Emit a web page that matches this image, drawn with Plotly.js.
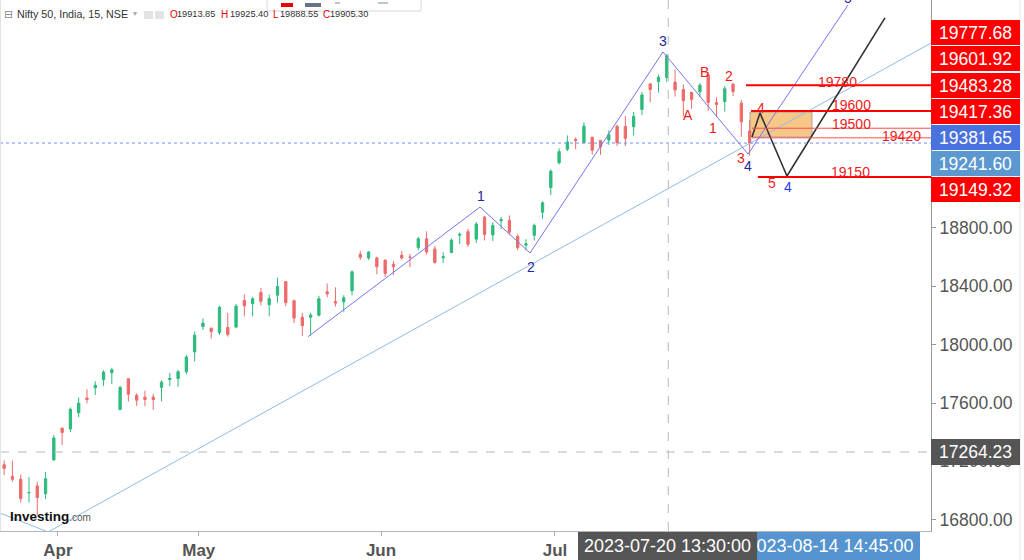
<!DOCTYPE html>
<html><head><meta charset="utf-8">
<script src="https://cdn.plot.ly/plotly-3.0.1.min.js"></script>
<style>html,body{margin:0;padding:0;background:#fff;}#chart{width:1024px;height:560px;}</style>
</head><body><div id="chart"></div>
<script>
// ---------- DATA (Nifty 50, daily OHLC) ----------
const dates = ['2023-03-22','2023-03-23','2023-03-24','2023-03-27','2023-03-28','2023-03-29','2023-03-31',
'2023-04-03','2023-04-05','2023-04-06','2023-04-10','2023-04-11','2023-04-12','2023-04-13','2023-04-17','2023-04-18','2023-04-19','2023-04-20','2023-04-21','2023-04-24','2023-04-25','2023-04-26','2023-04-27','2023-04-28',
'2023-05-02','2023-05-03','2023-05-04','2023-05-05','2023-05-08','2023-05-09','2023-05-10','2023-05-11','2023-05-12','2023-05-15','2023-05-16','2023-05-17','2023-05-18','2023-05-19','2023-05-22','2023-05-23','2023-05-24','2023-05-25','2023-05-26','2023-05-29','2023-05-30','2023-05-31',
'2023-06-01','2023-06-02','2023-06-05','2023-06-06','2023-06-07','2023-06-08','2023-06-09','2023-06-12','2023-06-13','2023-06-14','2023-06-15','2023-06-16','2023-06-19','2023-06-20','2023-06-21','2023-06-22','2023-06-23','2023-06-26','2023-06-27','2023-06-28','2023-06-30',
'2023-07-03','2023-07-04','2023-07-05','2023-07-06','2023-07-07','2023-07-10','2023-07-11','2023-07-12','2023-07-13','2023-07-14','2023-07-17','2023-07-18','2023-07-19','2023-07-20','2023-07-21','2023-07-24','2023-07-25','2023-07-26','2023-07-27','2023-07-28','2023-07-31',
'2023-08-01','2023-08-02','2023-08-03'];
const openP = [17177,17097,17077,16985,17032,16978,17210,
17428,17422,17533,17634,17704,17759,17807,17555,17767,17653,17640,17640,17707,17761,17768,17814,17950,
18124,18113,18082,18117,18120,18303,18281,18358,18273,18339,18432,18301,18188,18187,18201,18362,18295,18294,18369,18619,18594,18594,
18580,18551,18613,18600,18665,18725,18655,18595,18631,18750,18774,18723,18874,18752,18849,18853,18742,18682,18749,18908,19076,
19246,19339,19406,19385,19422,19400,19402,19497,19495,19493,19612,19787,19802,19831,19800,19748,19729,19733,19850,19659,19666,
19785,19655,19464];
const highP = [17207,17205,17110,17092,17061,17127,17381,
17428,17570,17638,17694,17749,17825,17842,17717,17767,17666,17684,17663,17755,17807,17827,17931,18090,
18180,18117,18267,18216,18278,18344,18326,18389,18343,18459,18432,18309,18218,18218,18335,18419,18393,18339,18508,18641,18642,18603,
18581,18574,18641,18623,18738,18777,18676,18633,18728,18769,18794,18840,18882,18840,18876,18886,18756,18723,18830,18983,19201,
19346,19434,19421,19524,19423,19400,19468,19508,19567,19595,19731,19792,19851,19992,19887,19782,19729,19793,19868,19695,19772,
19795,19678,19538];
const lowP = [17107,17061,16918,16918,16828,16941,17204,
17313,17402,17503,17597,17655,17717,17730,17553,17610,17580,17578,17554,17612,17716,17711,17797,17885,
18100,18042,18066,18055,18120,18194,18194,18270,18194,18287,18264,18147,18060,18062,18194,18325,18262,18226,18338,18581,18581,18483,
18464,18478,18583,18531,18647,18616,18555,18559,18627,18690,18669,18697,18714,18710,18794,18751,18647,18646,18714,18861,19025,
19235,19326,19339,19378,19303,19301,19370,19362,19361,19433,19572,19661,19727,19799,19700,19563,19616,19698,19603,19563,19597,
19704,19424,19296];
const closeP = [17152,17077,16945,16986,16952,17081,17360,
17398,17557,17599,17624,17722,17812,17828,17707,17660,17619,17624,17624,17743,17769,17814,17915,18065,
18148,18090,18256,18069,18264,18266,18315,18297,18315,18399,18287,18182,18130,18203,18314,18348,18285,18321,18499,18599,18634,18534,
18488,18534,18594,18599,18726,18635,18563,18602,18716,18756,18688,18826,18755,18817,18857,18771,18666,18691,18817,18972,19189,
19323,19389,19399,19497,19332,19356,19439,19384,19414,19565,19711,19749,19833,19979,19745,19672,19681,19778,19660,19646,19754,
19734,19527,19382];

const monthTickDates = ['2023-04-03','2023-05-02','2023-06-01','2023-07-03'];
const monthTickLabels = ['Apr','May','Jun','Jul'];
const priceTicks = [16800,17200,17600,18000,18400,18800];

// Elliott wave drawing: x = trading-day index, y = price
const waveX = [36.7, 57.45, 63.49, 79.54, 89.81, 101.88];
const waveY = [18055, 18943, 18628, 20006, 19306, 20328];
const waveLabelText = ['1','2','3','4'];
const waveLabelX = [57.57, 63.61, 79.54, 89.81];
const waveLabelY = [19019, 18532, 20081, 19224];
const wave5Label = {text:'5', x:101.88, y:20376};
const projX = [90.29, 91.25, 94.51, 106.34];
const projY = [19423, 19588, 19156, 20239];
const projLabelX = 94.63, projLabelY = 19080, projLabelText = '4';
const trendX = [5.30, 111.9], trendY = [16716, 20067];
const trend2X = [-0.5, 5.30], trend2Y = [16846, 16716];
const subLabels = ['A','B','1','2','3','4','5'];
const subLabelX = [82.56, 84.61, 85.58, 87.51, 88.96, 91.38, 92.70];
const subLabelY = [19574, 19869, 19485, 19841, 19279, 19622, 19108];
const levelValues = [19777.68, 19601.92, 19483.28, 19417.36, 19149.32];
const levelTexts = ['19780','19600','19500','19420','19150'];
const levelStartX = [89.57, 90.17, 90.29, 90.29, 91.0];
const levelTextX = [100.67, 102.36, 102.36, 108.28, 102.24];
const zoneX = [90.05, 97.53], zoneY = [19423, 19594];
const lastPrice = 19381.65;
const axisLabelValues = [19777.68, 19601.92, 19483.28, 19417.36, 19381.65, 19241.60, 19149.32];
const crossPrice = 17264.23, crossX = 80.18, crossText = '2023-07-20 13:30:00';
const cursorText = '2023-08-14 14:45:00';
const ohlcKeys = ['O','H','L','C'];
const ohlcVals = [19913.85, 19925.40, 19888.55, 19905.30];

// ---------- LAYOUT CONSTANTS ----------
const PW = 931, PH = 531;
const xMin = -0.5, xMax = 111.9, yMin = 16722.8, yMax = 20362.0;
const pxX = p => p / PW;
const pxY = p => (PH - p) / PH;
const priceToPaper = v => (v - yMin) / (yMax - yMin);
const FONT = 'Liberation Sans, Arial, Helvetica, sans-serif';
const xIdx = dates.map((d, i) => i);

const traces = [
  {type:'candlestick', x:xIdx, open:openP, high:highP, low:lowP, close:closeP,
   increasing:{line:{color:'#2dbb7d', width:1}, fillcolor:'#2dbb7d'},
   decreasing:{line:{color:'#ee6a6a', width:1}, fillcolor:'#ee6a6a'},
   hoverinfo:'none', showlegend:false},
  {type:'scatter', mode:'lines', x:trendX, y:trendY, line:{color:'#8dbbe8', width:1}, hoverinfo:'none'},
  {type:'scatter', mode:'lines', x:trend2X, y:trend2Y, line:{color:'#8dbbe8', width:1}, hoverinfo:'none'},
  {type:'scatter', mode:'lines', x:waveX, y:waveY, line:{color:'#7575f2', width:1}, hoverinfo:'none'},
  {type:'scatter', mode:'lines', x:projX, y:projY, line:{color:'#333333', width:1.6}, hoverinfo:'none'}
];

const shapes = [];
shapes.push({type:'rect', xref:'x', yref:'y', x0:zoneX[0], x1:zoneX[1], y0:zoneY[0], y1:zoneY[1],
  fillcolor:'#f7c27c', opacity:0.9, line:{color:'#999', width:1}, layer:'below'});
const thin = [false, false, true, true, false];
levelValues.forEach((v, i) => {
  shapes.push({type:'line', xref:'x', yref:'y', x0:levelStartX[i], x1:xMax, y0:v, y1:v,
    line:{color: thin[i] ? '#ff4d4d' : '#ff0000', width: thin[i] ? 1 : 2}});
});
shapes.push({type:'line', xref:'paper', yref:'y', x0:0, x1:1, y0:lastPrice, y1:lastPrice,
  line:{color:'#6f8fe6', width:1, dash:'dot'}});
shapes.push({type:'line', xref:'x', yref:'paper', x0:crossX, x1:crossX, y0:0, y1:1,
  line:{color:'#b8b8b8', width:1, dash:'dash'}});
shapes.push({type:'line', xref:'paper', yref:'y', x0:0, x1:1, y0:crossPrice, y1:crossPrice,
  line:{color:'#b8b8b8', width:1, dash:'dash'}});
shapes.push({type:'line', xref:'paper', yref:'paper', x0:pxX(0.5), x1:pxX(0.5), y0:0, y1:1, line:{color:'#e2e2e2', width:1}});
shapes.push({type:'line', xref:'paper', yref:'paper', x0:pxX(1020), x1:pxX(1020), y0:pxY(560), y1:1, line:{color:'#e4e4e4', width:1}});
// header icons
shapes.push({type:'rect', xref:'paper', yref:'paper', x0:pxX(144), x1:pxX(153), y0:pxY(19), y1:pxY(11), fillcolor:'#e3e3e3', line:{width:0}});
shapes.push({type:'rect', xref:'paper', yref:'paper', x0:pxX(155), x1:pxX(164), y0:pxY(19), y1:pxY(11), fillcolor:'#e3e3e3', line:{width:0}});
// toolbar
shapes.push({type:'rect', xref:'paper', yref:'paper', x0:pxX(267), x1:pxX(421), y0:pxY(11), y1:pxY(-2), fillcolor:'#ffffff', line:{color:'#d6d6d6', width:1}});
shapes.push({type:'rect', xref:'paper', yref:'paper', x0:pxX(281), x1:pxX(293), y0:pxY(7), y1:pxY(3), fillcolor:'#ee0000', line:{width:0}});
shapes.push({type:'rect', xref:'paper', yref:'paper', x0:pxX(305), x1:pxX(321), y0:pxY(7), y1:pxY(3), fillcolor:'#6a7385', line:{width:0}});
shapes.push({type:'line', xref:'paper', yref:'paper', x0:pxX(335), x1:pxX(340), y0:pxY(3), y1:pxY(3), line:{color:'#888', width:1}});
shapes.push({type:'line', xref:'paper', yref:'paper', x0:pxX(378), x1:pxX(388), y0:pxY(3), y1:pxY(3), line:{color:'#888', width:1}});

const ann = [];
waveLabelText.forEach((t, i) => ann.push({xref:'x', yref:'y', x:waveLabelX[i], y:waveLabelY[i], text:t, showarrow:false,
  font:{family:FONT, size:14, color:'#25289a'}}));
ann.push({xref:'x', yref:'paper', x:wave5Label.x, y:priceToPaper(wave5Label.y), yshift:10, text:wave5Label.text, showarrow:false,
  font:{family:FONT, size:14, color:'#25289a'}});
ann.push({xref:'x', yref:'y', x:projLabelX, y:projLabelY, text:projLabelText, showarrow:false,
  font:{family:FONT, size:14, color:'#1f3de6'}});
subLabels.forEach((t, i) => ann.push({xref:'x', yref:'y', x:subLabelX[i], y:subLabelY[i], text:t, showarrow:false,
  font:{family:FONT, size:14, color:'#f01c1c'}}));
const levelShift = [3, 6, 4, 2, 5];
levelTexts.forEach((t, i) => ann.push({xref:'x', yref:'y', x:levelTextX[i], y:levelValues[i], yshift:levelShift[i],
  text:t, showarrow:false, font:{family:FONT, size:14, color:'#f01c1c'}}));
const labelColors = ['#ff0000','#ff0000','#ff0000','#ff0000','#4a72de','#5b98d0','#ff0000'];
axisLabelValues.forEach((v, i) => {
  const cy = 32.5 + i * 26.25;
  ann.push({xref:'paper', yref:'paper', x:1, y:pxY(cy), xanchor:'left', yanchor:'middle',
    width:89, height:25, borderpad:0, borderwidth:0, bgcolor:labelColors[i], showarrow:false,
    text:v.toFixed(2), font:{family:FONT, size:17.5, color:'#ffffff'}});
});
ann.push({xref:'paper', yref:'paper', x:1, y:pxY(452), xanchor:'left', yanchor:'middle',
  width:89, height:26, borderpad:0, borderwidth:0, bgcolor:'#555555', showarrow:false,
  text:crossPrice.toFixed(2), font:{family:FONT, size:17.5, color:'#ffffff'}});
ann.push({xref:'paper', yref:'paper', x:pxX(740), y:pxY(532), xanchor:'left', yanchor:'top',
  width:180, height:28, borderpad:0, borderwidth:0, bgcolor:'#5594d0', showarrow:false,
  text:cursorText, font:{family:FONT, size:18, color:'#ffffff'}});
ann.push({xref:'paper', yref:'paper', x:pxX(578), y:pxY(532), xanchor:'left', yanchor:'top',
  width:179, height:28, borderpad:0, borderwidth:0, bgcolor:'#555555', showarrow:false,
  text:crossText, font:{family:FONT, size:18, color:'#ffffff'}});
// header
ann.push({xref:'paper', yref:'paper', x:pxX(2), y:pxY(14), xanchor:'left', yanchor:'middle', showarrow:false,
  text:'⊟', font:{family:'DejaVu Sans', size:11, color:'#888'}});
ann.push({xref:'paper', yref:'paper', x:pxX(15), y:pxY(14), xanchor:'left', yanchor:'middle', showarrow:false,
  text:'Nifty 50, India, 15, NSE', font:{family:FONT, size:10.7, color:'#333'}});
ann.push({xref:'paper', yref:'paper', x:pxX(131), y:pxY(13), xanchor:'left', yanchor:'middle', showarrow:false,
  text:'▾', font:{family:'DejaVu Sans', size:8, color:'#aaa'}});
const ohlcKeyPx = [168, 219, 271, 321];
const ohlcValPx = [175, 228, 278, 328];
ohlcKeys.forEach((k, i) => {
  ann.push({xref:'paper', yref:'paper', x:pxX(ohlcKeyPx[i]), y:pxY(14), xanchor:'left', yanchor:'middle', showarrow:false,
    text:k, font:{family:FONT, size:10, color:'#e60000'}});
  ann.push({xref:'paper', yref:'paper', x:pxX(ohlcValPx[i]), y:pxY(14), xanchor:'left', yanchor:'middle', showarrow:false,
    text:ohlcVals[i].toFixed(2), font:{family:FONT, size:9.2, color:'#333'}});
});
ann.push({xref:'paper', yref:'paper', x:pxX(8), y:pxY(516), xanchor:'left', yanchor:'middle', showarrow:false,
  text:'<b>Investing</b><span style="font-size:10px;color:#555">.com</span>', font:{family:FONT, size:13.5, color:'#111'}});

const layout = {
  width:1024, height:560,
  margin:{l:0, r:1024-PW, t:0, b:560-PH, pad:0},
  paper_bgcolor:'#ffffff', plot_bgcolor:'#ffffff',
  showlegend:false, boxgap:0.6,
  font:{family:FONT},
  xaxis:{type:'linear', range:[xMin, xMax], rangeslider:{visible:false},
    tickvals: monthTickDates.map(d => dates.indexOf(d) - 0.5),
    ticktext: monthTickLabels.map(t => '<b>' + t + '</b>'),
    tickfont:{family:FONT, size:17, color:'#555'},
    ticks:'outside', ticklen:4, tickcolor:'#aaa',
    showline:true, linecolor:'#b5b5b5', linewidth:1,
    showgrid:false, zeroline:false, fixedrange:true},
  yaxis:{side:'right', range:[yMin, yMax], tickvals:priceTicks,
    ticktext: priceTicks.map(v => v.toFixed(2)),
    tickfont:{family:FONT, size:17.5, color:'#555'},
    ticks:'outside', ticklen:4, tickcolor:'#999',
    showline:true, linecolor:'#9a9a9a', linewidth:1,
    showgrid:false, zeroline:false, fixedrange:true},
  shapes:shapes, annotations:ann
};
Plotly.newPlot('chart', traces, layout, {displayModeBar:false, staticPlot:true});
</script></body></html>
